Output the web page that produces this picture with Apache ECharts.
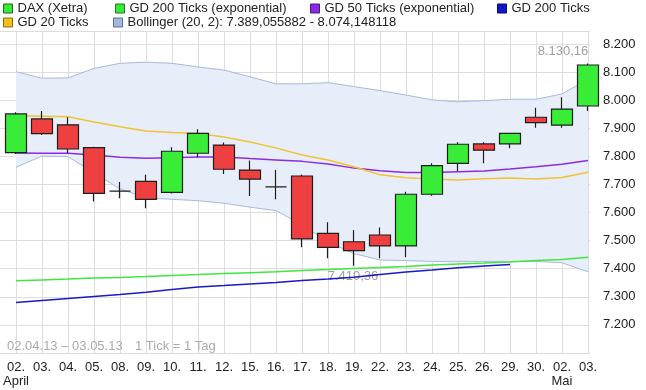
<!DOCTYPE html>
<html><head><meta charset="utf-8">
<script src="https://cdn.jsdelivr.net/npm/echarts@6/dist/echarts.min.js"></script>
<style>html,body{margin:0;padding:0;background:#fff}#c{width:646px;height:390px}</style>
</head><body><div id="c"></div>
<script>
const categories = ['02.\nApril','03.','04.','05.','08.','09.','10.','11.','12.','15.','16.','17.','18.','19.','22.','23.','24.','25.','26.','29.','30.','02.\nMai','03.'];
const openV  = [7813,7933,7912,7831,7676,7711,7672,7811,7840,7751,7691,7730,7526,7496,7520,7481,7665,7775,7844,7844,7939,7911,7979];
const closeV = [7951,7881,7826,7668,7676,7647,7818,7882,7754,7719,7691,7506,7476,7464,7481,7665,7767,7843,7822,7882,7920,7968,8125];
const lowV   = [7808,7876,7811,7639,7651,7615,7668,7797,7737,7659,7647,7476,7437,7410.36,7437,7441,7660,7748,7775,7829,7902,7902,7961];
const highV  = [7957,7961,7939,7834,7709,7734,7832,7896,7849,7785,7751,7735,7565,7538,7547,7674,7775,7850,7850,7884,7973,8010,8130.16];
const bbUpper = [8101,8078,8079,8113,8131,8135,8131,8118,8107,8083,8058,8058,8062,8048,8034,8018,8001,7994,7998,8003,8003,8022,8074.15];
const bbLower = [7761,7801,7799,7741,7684,7652,7647,7642,7633,7619,7607,7556,7495,7454,7431,7429,7426,7426,7426,7426,7426,7421,7389.06];
const gd20    = [7944,7943,7941,7922,7905,7890,7885,7881,7869,7851,7830,7805,7787,7763,7734,7724,7719,7716,7720,7723,7719,7725,7743];
const gd50e   = [7812,7811,7811,7805,7797,7793,7795,7798,7798,7792,7787,7782,7773,7758,7749,7742,7742,7745,7748,7755,7763,7772,7785];
const gd200e  = [7357,7360,7363,7367,7369,7372,7376,7379,7383,7386,7389,7394,7397,7401,7404,7408,7413,7417,7420,7424,7429,7433,7441];
const gd200   = [7280,7287,7294,7301,7308,7316,7326,7335,7340,7346,7351,7358,7363,7370,7379,7388,7395,7403,7410,7415,null,null,null];
const yTickLabels = {min:7100, max:8246, step:100};
const footerLeft = '02.04.13 – 03.05.13';
const footerRight = '1 Tick = 1 Tag';
const names = {
  dax:'DAX (Xetra)', g200e:'GD 200 Ticks (exponential)', g50e:'GD 50 Ticks (exponential)',
  g200:'GD 200 Ticks', g20:'GD 20 Ticks', bb:'Bollinger (20, 2): 7.389,055882 - 8.074,148118'
};

function deNum(v, dec){
  const s = v.toFixed(dec);
  let [ip, fp] = s.split('.');
  ip = ip.replace(/\B(?=(\d{3})+(?!\d))/g, '.');
  return fp ? ip + ',' + fp : ip;
}
const candles = categories.map((_, i) => [openV[i], closeV[i], lowV[i], highV[i]]);
const bbDiff = bbUpper.map((u, i) => +(u - bbLower[i]).toFixed(2));
let maxI = 0, minI = 0;
highV.forEach((v, i) => { if (v > highV[maxI]) maxI = i; });
lowV.forEach((v, i) => { if (v < lowV[minI]) minI = i; });

const FONT = "'Liberation Sans', Arial, sans-serif";
const legendItem = (name, left, top, color, border) => ({
  left, top, padding: 0, itemWidth: 9, itemHeight: 9, selectedMode: false,
  textStyle: {fontFamily: FONT, fontSize: 13, color: '#222'},
  data: [{name, icon: 'rect', itemStyle: {color, borderColor: border, borderWidth: 1}}]
});

const chart = echarts.init(document.getElementById('c'), null, {renderer: 'canvas'});
chart.setOption({
  animation: false,
  backgroundColor: '#ffffff',
  legend: [
    legendItem(names.dax, 3, 2, '#33ee33', '#226622'),
    legendItem(names.g200e, 115, 2, '#33ee33', '#227722'),
    legendItem(names.g50e, 310, 2, '#8a2be2', '#4b1a80'),
    legendItem(names.g200, 497, 2, '#1515c8', '#0a0a70'),
    legendItem(names.g20, 3, 16, '#f2c21b', '#8a6d10'),
    legendItem(names.bb, 113, 16, '#a4b8dc', '#5d6f90')
  ],
  grid: [
    {left: 14, right: 58, top: 31, bottom: 37},
    {left: 0, right: 56, top: 31, bottom: 37}
  ],
  xAxis: [
    {type: 'category', gridIndex: 0, data: categories, boundaryGap: false,
     axisLine: {show: false}, axisTick: {show: false},
     splitLine: {show: true, lineStyle: {color: '#dddddd', width: 1}},
     axisLabel: {interval: 0, fontFamily: FONT, fontSize: 13, color: '#222', margin: 7, lineHeight: 14}},
    {type: 'value', gridIndex: 1, min: 0, max: 1, show: false}
  ],
  yAxis: [
    {type: 'value', gridIndex: 0, min: yTickLabels.min, max: yTickLabels.max, show: false, splitLine: {show: false}},
    {type: 'value', gridIndex: 1, position: 'right', min: yTickLabels.min, max: yTickLabels.max, interval: yTickLabels.step,
     axisLine: {show: false}, axisTick: {show: false},
     splitLine: {show: true, lineStyle: {color: '#dddddd', width: 1}},
     axisLabel: {margin: 13, fontFamily: FONT, fontSize: 13, color: '#222', showMinLabel: false, showMaxLabel: false,
       formatter: v => deNum(v, 0)}}
  ],
  series: [
    {name: '__bbLower', type: 'line', xAxisIndex: 0, yAxisIndex: 0, data: bbLower, stack: 'bb',
     symbol: 'none', lineStyle: {color: '#a9b9d9', width: 1}, z: 1, silent: true},
    {name: names.bb, type: 'line', xAxisIndex: 0, yAxisIndex: 0, data: bbDiff, stack: 'bb',
     symbol: 'none', lineStyle: {color: '#a9b9d9', width: 1}, areaStyle: {color: '#e8eef9', opacity: 1}, z: 1, silent: true},
    {name: names.g200e, type: 'line', data: gd200e, symbol: 'none', lineStyle: {color: '#3ee83e', width: 1.5}, z: 3},
    {name: names.g200, type: 'line', data: gd200, symbol: 'none', lineStyle: {color: '#1a1ac8', width: 1.5}, z: 3},
    {name: names.g50e, type: 'line', data: gd50e, symbol: 'none', lineStyle: {color: '#8a2be2', width: 1.5}, z: 3},
    {name: names.g20, type: 'line', data: gd20, symbol: 'none', lineStyle: {color: '#f0c430', width: 1.5}, z: 3},
    {name: names.dax, type: 'candlestick', data: candles, barWidth: 21, clip: false, z: 5,
     itemStyle: {color: '#38ec38', color0: '#ee4040', borderColor: '#1e1e1e', borderColor0: '#1e1e1e', borderColorDoji: '#1e1e1e', borderWidth: 1.2},
     markPoint: {
       symbol: 'circle', symbolSize: 0, silent: true, z: 2,
       label: {show: true, position: 'inside', fontFamily: FONT, fontSize: 13, color: '#a0a0a0'},
       data: [
         {coord: [maxI, highV[maxI]], value: deNum(highV[maxI], 2), label: {offset: [-25, -12], formatter: '{c}'}},
         {coord: [minI, lowV[minI]], value: deNum(lowV[minI], 2), label: {offset: [-1, 11], formatter: '{c}'}}
       ]
     }}
  ],
  graphic: [
    {type: 'text', left: 7, top: 340, z: 10, style: {text: footerLeft, fontFamily: FONT, fontSize: 13, fill: '#aaaaaa'}},
    {type: 'text', left: 135, top: 340, z: 10, style: {text: footerRight, fontFamily: FONT, fontSize: 13, fill: '#aaaaaa'}}
  ]
});
</script></body></html>
